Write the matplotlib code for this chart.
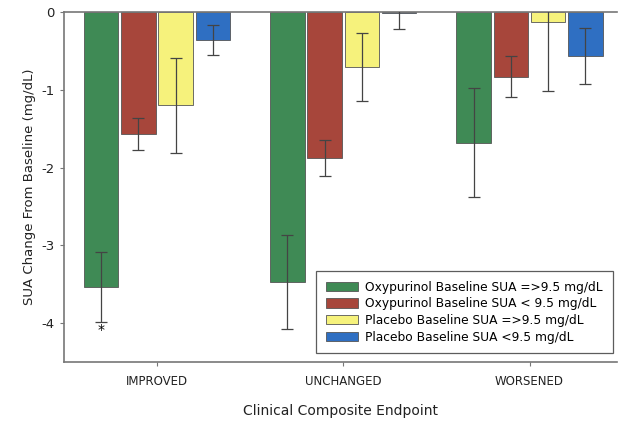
import numpy as np
import matplotlib.pyplot as plt

categories = ['IMPROVED', 'UNCHANGED', 'WORSENED']
series = ['Oxypurinol Baseline SUA =>9.5 mg/dL',
          'Oxypurinol Baseline SUA < 9.5 mg/dL',
          'Placebo Baseline SUA =>9.5 mg/dL',
          'Placebo Baseline SUA <9.5 mg/dL']
oxy_high = [-3.53, -3.47, -1.68]
oxy_high_err = [0.45, 0.60, 0.70]
oxy_low = [-1.57, -1.88, -0.83]
oxy_low_err = [0.21, 0.23, 0.26]
pbo_high = [-1.20, -0.71, -0.13]
pbo_high_err = [0.61, 0.44, 0.88]
pbo_low = [-0.36, -0.02, -0.57]
pbo_low_err = [0.19, 0.20, 0.36]
colors = ['#3f8a55', '#a7463b', '#f6f27c', '#2f6fc2']

values = [oxy_high, oxy_low, pbo_high, pbo_low]
errors = [oxy_high_err, oxy_low_err, pbo_high_err, pbo_low_err]

fig = plt.figure(figsize=(6.19, 4.26), dpi=100)
ax = fig.add_axes([0.103, 0.150, 0.894, 0.822])

x = np.arange(len(categories))
offsets = [-0.3, -0.1, 0.1, 0.3]
width = 0.185
for vals, errs, col, lab, off in zip(values, errors, colors, series, offsets):
    ax.bar(x + off, vals, width, color=col, edgecolor='#555555', linewidth=0.6,
           label=lab, zorder=2)
    ax.errorbar(x + off, vals, yerr=errs, fmt='none', ecolor='#444444',
                elinewidth=0.9, capsize=4, capthick=0.9, zorder=3)

# significance marker
ax.text(x[0] + offsets[0], oxy_high[0] - oxy_high_err[0] - 0.02, '*',
        ha='center', va='top', fontsize=10, color='black')

ax.set_xlim(-0.5, 2.47)
ax.set_ylim(-4.5, 0)
ax.set_yticks([0, -1, -2, -3, -4])
ax.set_yticklabels(['0', '-1', '-2', '-3', '-4'], fontsize=9.5)
ax.set_xticks(x)
ax.set_xticklabels(categories, fontsize=8.5)
ax.set_ylabel('SUA Change From Baseline (mg/dL)', fontsize=9.5, color='#222222')
ax.set_xlabel('Clinical Composite Endpoint', fontsize=10, color='#222222', labelpad=12)

for s in ['left', 'bottom', 'top']:
    ax.spines[s].set_color('#777777')
    ax.spines[s].set_linewidth(1.2)
ax.spines['right'].set_visible(False)
ax.tick_params(axis='both', colors='#777777', labelcolor='#222222', length=3)
ax.tick_params(axis='x', pad=6)

leg = ax.legend(loc='lower right', fontsize=8.8, frameon=True, fancybox=False,
                edgecolor='#333333', handlelength=2.6, handleheight=0.8,
                handletextpad=0.6, borderpad=0.8, labelspacing=0.3,
                borderaxespad=0, bbox_to_anchor=(0.992, 0.025))
leg.get_frame().set_linewidth(0.9)

fig.savefig('out.png', dpi=100)
